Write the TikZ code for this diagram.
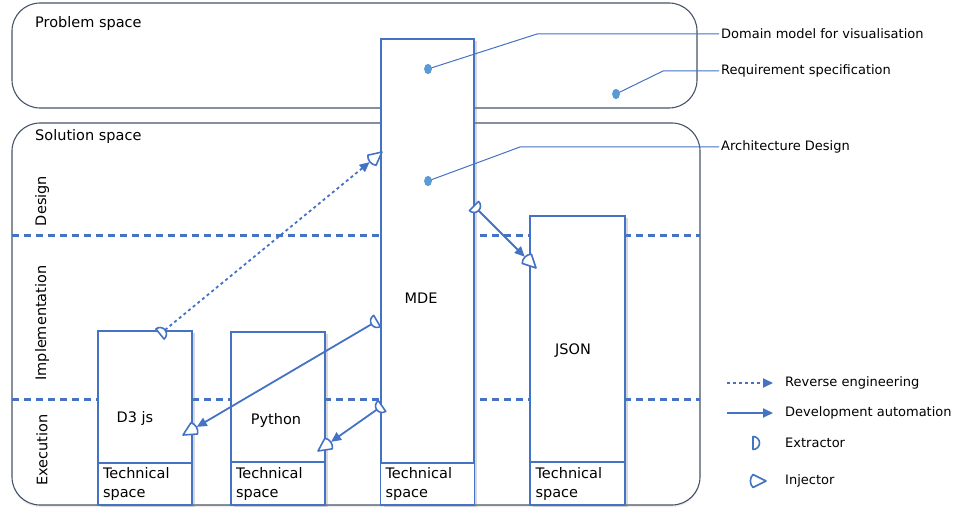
\documentclass[tikz,border=0pt]{standalone}
\usepackage{fontspec}
\setmainfont{DejaVu Sans}
\usetikzlibrary{arrows.meta,shadows,calc,shapes.geometric}
\definecolor{boxblue}{HTML}{4472C4}
\definecolor{dotblue}{HTML}{5B9BD5}
\definecolor{framecol}{HTML}{44546A}
\begin{document}
\begin{tikzpicture}[x=1pt,y=-1pt,
  spacebox/.style={draw=framecol, line width=1.1pt, rounded corners=28pt},
  sepline/.style={draw=boxblue, line width=3pt, dash pattern=on 7pt off 5pt},
  techbox/.style={draw=boxblue, line width=1.2pt, fill=white, inner sep=0pt,
    drop shadow={opacity=0.3, shadow xshift=3pt, shadow yshift=-2pt}},
  tspace/.style={draw=boxblue, line width=1.2pt, fill=white, inner xsep=5pt, inner ysep=0pt,
    text width=84pt, align=left, anchor=south, font=\fontsize{14.5}{19}\selectfont},
  biglbl/.style={inner sep=2pt, font=\fontsize{14.5}{17}\selectfont},
  smalllbl/.style={inner sep=2pt, anchor=west, font=\fontsize{13}{16}\selectfont},
  leader/.style={draw=boxblue, line width=1pt},
  dotmark/.style={ellipse, fill=dotblue, minimum width=7.5pt, minimum height=10pt, inner sep=0pt},
  devarrow/.style={draw=boxblue, line width=1.8pt, -{Triangle[length=10pt,width=9pt]}},
  revarrow/.style={draw=boxblue, line width=1.8pt, dash pattern=on 3pt off 3pt, -{Triangle[length=10pt,width=9pt]}},
  symb/.style={draw=boxblue, line width=1.6pt, fill=white, line join=round},
  extractor/.pic={\draw[symb] (0pt,-6.5pt) arc[start angle=-90,end angle=90,radius=6.5pt] -- cycle;},
  injector/.pic={\draw[symb] (0pt,0pt) -- (-13pt,6.5pt) .. controls (-16.5pt,3pt) and (-16.5pt,-3pt) .. (-13pt,-6.5pt) -- cycle;}
]
\useasboundingbox (0,0) rectangle (956,510);

% spaces
\draw[spacebox] (12,3) rectangle (697,108);
\draw[spacebox, drop shadow={opacity=0.15, shadow xshift=0pt, shadow yshift=-2pt}, fill=white] (12,123) rectangle (700,505);
\node[biglbl, anchor=west] (prob) at (33,24) {Problem space};
\node[biglbl, anchor=west] (sol) at (33,137) {Solution space};

% separators
\draw[sepline] (12,236) -- (700,236);
\draw[sepline] (12,400) -- (700,400);

% vertical labels
\node[biglbl, rotate=90] (des) at (42,201) {Design};
\node[biglbl, rotate=90] (imp) at (42,323) {Implementation};
\node[biglbl, rotate=90] (exe) at (42,450) {Execution};

% boxes
\node[techbox, minimum width=94pt, minimum height=174pt] (d3) at (145,418) {};
\node[tspace, minimum height=42pt] (d3t) at (d3.south) {Technical\\space};
\node[techbox, minimum width=94pt, minimum height=173pt] (py) at (278,418.5) {};
\node[tspace, minimum height=43pt] (pyt) at (py.south) {Technical\\space};
\node[techbox, minimum width=93pt, minimum height=466pt] (mde) at (427.5,272) {};
\node[tspace, minimum height=42pt] (mdet) at (mde.south) {Technical\\space};
\node[techbox, minimum width=95pt, minimum height=289pt] (json) at (577.5,360.5) {};
\node[tspace, minimum height=43pt] (jsont) at (json.south) {Technical\\space};

\node[biglbl] (d3l) at (135,419) {D3 js};
\node[biglbl] (pyl) at (276,420) {Python};
\node[biglbl] (mdel) at (421,298) {MDE};
\node[biglbl] (jsonl) at (573,351) {JSON};

% leaders and dots
\node[smalllbl] (dm) at (719,34) {Domain model for visualisation};
\node[smalllbl] (rs) at (719,71) {Requirement specification};
\node[smalllbl] (ad) at (719,147) {Architecture Design};
\node[dotmark] (dot1) at (428,69) {};
\node[dotmark] (dot2) at (616,94) {};
\node[dotmark] (dot3) at (428,181) {};
\draw[leader] (dot1.center) -- (537,34) -- (dm.west);
\draw[leader] (dot2.center) -- (663,71) -- (rs.west);
\draw[leader] (dot3.center) -- (520,147) -- (ad.west);
\node[dotmark] at (dot1) {};
\node[dotmark] at (dot2) {};
\node[dotmark] at (dot3) {};

% transformation arrows
\coordinate (e1) at (160,334); \coordinate (i1) at (382,152);
\coordinate (e2) at (377,321); \coordinate (i2) at (183,435);
\coordinate (e3) at (382,406); \coordinate (i3) at (318,451);
\coordinate (e4) at (474,206); \coordinate (i4) at (536,268);
\draw[revarrow] ($(e1)!6.5pt!(i1)$) -- ($(i1)!16pt!(e1)$);
\draw[devarrow] ($(e2)!6.5pt!(i2)$) -- ($(i2)!16pt!(e2)$);
\draw[devarrow] ($(e3)!6.5pt!(i3)$) -- ($(i3)!16pt!(e3)$);
\draw[devarrow] ($(e4)!6.5pt!(i4)$) -- ($(i4)!16pt!(e4)$);
\foreach \e/\i in {e1/i1,e2/i2,e3/i3,e4/i4}{
  \path let \p1=($(\i)-(\e)$), \n1={atan2(\y1,\x1)} in
    (\e) pic[rotate=\n1] {extractor}
    (\i) pic[rotate=\n1] {injector};
}

% legend
\coordinate (la1) at (727,383); \coordinate (lb1) at (773,383);
\coordinate (la2) at (727,413); \coordinate (lb2) at (773,413);
\draw[revarrow] (la1) -- (lb1);
\draw[devarrow] (la2) -- (lb2);
\node[smalllbl] (lt1) at (783,383) {Reverse engineering};
\node[smalllbl] (lt2) at (783,413) {Development automation};
\pic at (753,443) {extractor};
\node[smalllbl] (lt3) at (783,443) {Extractor};
\pic at (766,481) {injector};
\node[smalllbl] (lt4) at (783,481) {Injector};
\end{tikzpicture}
\end{document}
